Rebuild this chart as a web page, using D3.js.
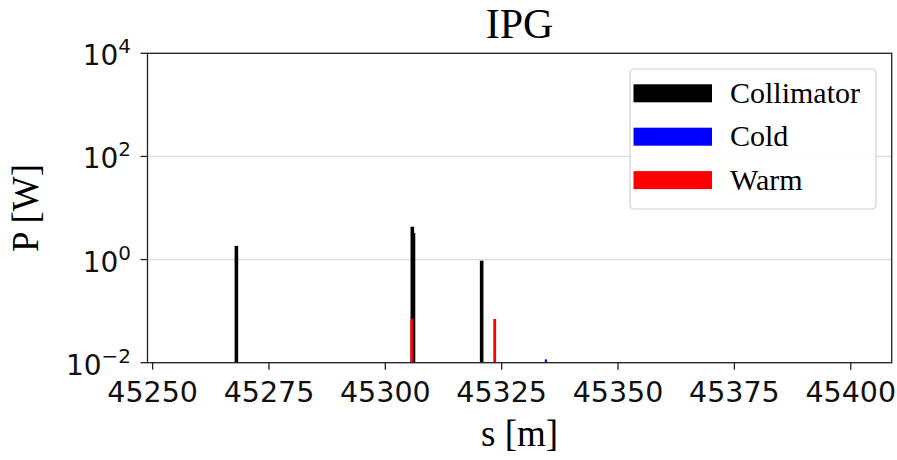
<!DOCTYPE html>
<html><head><meta charset="utf-8">
<script src="https://cdn.jsdelivr.net/npm/d3@7"></script>
<style>
html,body{margin:0;padding:0;background:#fff;}
</style></head>
<body><svg id="chart" width="897" height="460"></svg>
<script>
const title = "IPG";
const xLabel = "s [m]";
const yLabel = "P [W]";
const seriesNames = ["Collimator", "Cold", "Warm"];
const seriesColors = ["#000000", "#0000ff", "#ff0000"];
const collimatorS = [45268.0, 45305.8, 45306.05, 45320.7];
const collimatorP = [1.84, 4.35, 3.28, 0.95];
const coldS = [45334.5];
const coldP = [0.0116];
const warmS = [45305.7, 45323.5];
const warmP = [0.0705, 0.0705];
const xTicks = [45250, 45275, 45300, 45325, 45350, 45375, 45400];
const yTickExp = [-2, 0, 2, 4];
const xDomain = [45248.9, 45408.8];
const yDomain = [1e-2, 1e4];

const svg = d3.select("#chart");
const L = 147.5, R = 891.7, T = 53.3, B = 362.7;
const x = d3.scaleLinear().domain(xDomain).range([L, R]);
const y = d3.scaleLog().domain(yDomain).range([B, T]);

// grid
svg.append("g").selectAll("line").data(yTickExp).join("line")
  .attr("x1", L).attr("x2", R)
  .attr("y1", d => y(Math.pow(10, d))).attr("y2", d => y(Math.pow(10, d)))
  .attr("stroke", "#dcdcdc").attr("stroke-width", 1.2);

// bars
const series = [
  {s: collimatorS, p: collimatorP, c: seriesColors[0], w: 3.6},
  {s: coldS, p: coldP, c: seriesColors[1], w: 2.2},
  {s: warmS, p: warmP, c: seriesColors[2], w: 2.8}
];
series.forEach(se => {
  const data = se.s.map((s, i) => ({s, p: se.p[i]}));
  svg.append("g").selectAll("line").data(data).join("line")
    .attr("x1", d => x(d.s)).attr("x2", d => x(d.s))
    .attr("y1", B).attr("y2", d => y(d.p))
    .attr("stroke", se.c).attr("stroke-width", se.w);
});

// frame
svg.append("rect").attr("x", L).attr("y", T).attr("width", R - L).attr("height", B - T)
  .attr("fill", "none").attr("stroke", "#222").attr("stroke-width", 1.3);

// x axis ticks
const xa = svg.append("g");
xa.selectAll("line").data(xTicks).join("line")
  .attr("x1", d => x(d)).attr("x2", d => x(d))
  .attr("y1", B).attr("y2", B + 7).attr("stroke", "#222").attr("stroke-width", 1.3);
xa.selectAll("text").data(xTicks).join("text")
  .attr("x", d => x(d)).attr("y", B + 39)
  .attr("text-anchor", "middle")
  .attr("font-family", "DejaVu Sans").attr("font-size", 28.5).attr("fill", "#111")
  .text(d => d);

// y axis ticks
const ya = svg.append("g");
ya.selectAll("line").data(yTickExp).join("line")
  .attr("x1", L - 7).attr("x2", L)
  .attr("y1", d => y(Math.pow(10, d))).attr("y2", d => y(Math.pow(10, d)))
  .attr("stroke", "#222").attr("stroke-width", 1.3);
ya.selectAll("text").data(yTickExp).join("text")
  .attr("x", 131).attr("y", d => y(Math.pow(10, d)) + 12)
  .attr("text-anchor", "end")
  .attr("font-family", "DejaVu Sans").attr("font-size", 28).attr("fill", "#111")
  .each(function(d) {
    const t = d3.select(this);
    t.append("tspan").text("10");
    t.append("tspan").attr("dy", -12).attr("font-size", 20)
      .text(d < 0 ? "\u2212" + Math.abs(d) : String(d));
  });

// title & labels
svg.append("text").attr("x", (L + R) / 2).attr("y", 38).attr("text-anchor", "middle")
  .attr("font-family", "Liberation Serif").attr("font-size", 42).attr("fill", "#000").text(title);
svg.append("text").attr("x", (L + R) / 2).attr("y", 446).attr("text-anchor", "middle")
  .attr("font-family", "Liberation Serif").attr("font-size", 37).attr("fill", "#000").text(xLabel);
svg.append("text").attr("transform", `translate(38,${(T + B) / 2}) rotate(-90)`)
  .attr("text-anchor", "middle")
  .attr("font-family", "Liberation Serif").attr("font-size", 37).attr("fill", "#000").text(yLabel);

// legend
const lg = svg.append("g");
lg.append("rect").attr("x", 630).attr("y", 69).attr("width", 246).attr("height", 140)
  .attr("rx", 4).attr("fill", "#fff").attr("fill-opacity", 0.85)
  .attr("stroke", "#d0d0d0").attr("stroke-width", 1.2);
seriesNames.forEach((n, i) => {
  const yy = 84.3 + i * 43.4;
  lg.append("rect").attr("x", 633.5).attr("y", yy).attr("width", 78.5).attr("height", 18)
    .attr("fill", seriesColors[i]);
  lg.append("text").attr("x", 730).attr("y", yy + 18.5)
    .attr("font-family", "Liberation Serif").attr("font-size", 30).attr("fill", "#000").text(n);
});
</script></body></html>
